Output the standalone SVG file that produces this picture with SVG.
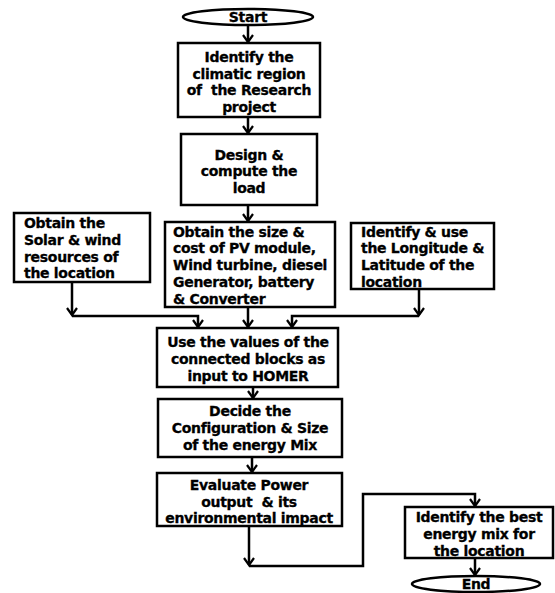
<svg xmlns="http://www.w3.org/2000/svg" width="555" height="593" viewBox="0 0 555 593">
<style>
.box{fill:#fff;stroke:#000;stroke-width:2.5}
.t{font-family:"DejaVu Sans","Verdana",sans-serif;font-weight:bold;font-size:14px;letter-spacing:-0.3px;fill:#000;stroke:#000;stroke-width:0.3;white-space:pre}
.c{text-anchor:middle}
.ln{fill:none;stroke:#000;stroke-width:2.5}
</style>
<defs>
<marker id="ah" viewBox="0 0 10 12" refX="8" refY="6" markerWidth="10" markerHeight="12" markerUnits="userSpaceOnUse" orient="auto">
<path d="M1,1 L8,6 L1,11" fill="none" stroke="#000" stroke-width="2.2"/>
</marker>
</defs>
<rect width="555" height="593" fill="#fff"/>
<g id="connectors">
<path class="ln" d="M248,25 V42" marker-end="url(#ah)"/>
<path class="ln" d="M248,117 V133" marker-end="url(#ah)"/>
<path class="ln" d="M248,205 V221" marker-end="url(#ah)"/>
<path class="ln" d="M72,282 V315" marker-end="url(#ah)"/>
<path class="ln" d="M72,316 H198 V327" marker-end="url(#ah)"/>
<path class="ln" d="M248,307 V327" marker-end="url(#ah)"/>
<path class="ln" d="M419,289 V315" marker-end="url(#ah)"/>
<path class="ln" d="M419,316 H292 V327" marker-end="url(#ah)"/>
<path class="ln" d="M253,387 V398" marker-end="url(#ah)"/>
<path class="ln" d="M252,457 V472" marker-end="url(#ah)"/>
<path class="ln" d="M249,526 V565" marker-end="url(#ah)"/>
<path class="ln" d="M249,566 H363 V494 H475 V506" marker-end="url(#ah)"/>
<path class="ln" d="M475,558 V575" marker-end="url(#ah)"/>
</g>
<g id="start">
<ellipse class="box" cx="248" cy="17" rx="65" ry="8"/>
<text class="t c" x="248" y="22">Start</text>
</g>
<g id="climatic">
<rect class="box" x="178" y="43" width="142" height="74"/>
<text class="t c" x="249" y="62">Identify the</text>
<text class="t c" x="249" y="79">climatic region</text>
<text class="t c" x="249" y="95">of  the Research</text>
<text class="t c" x="249" y="112">project</text>
</g>
<g id="load">
<rect class="box" x="181" y="134" width="136" height="71"/>
<text class="t c" x="249" y="160">Design &amp;</text>
<text class="t c" x="249" y="176">compute the</text>
<text class="t c" x="249" y="193">load</text>
</g>
<g id="resources">
<rect class="box" x="14" y="213" width="136" height="69"/>
<text class="t" x="24" y="228">Obtain the</text>
<text class="t" x="24" y="245">Solar &amp; wind</text>
<text class="t" x="24" y="262">resources of</text>
<text class="t" x="24" y="278">the location</text>
</g>
<g id="sizecost">
<rect class="box" x="165" y="222" width="170" height="85"/>
<text class="t" x="173" y="237">Obtain the size &amp;</text>
<text class="t" x="173" y="253">cost of PV module,</text>
<text class="t" x="173" y="270">Wind turbine, diesel</text>
<text class="t" x="173" y="287">Generator, battery</text>
<text class="t" x="173" y="304">&amp; Converter</text>
</g>
<g id="longlat">
<rect class="box" x="351" y="223" width="143" height="66"/>
<text class="t" x="361" y="237">Identify &amp; use</text>
<text class="t" x="361" y="253">the Longitude &amp;</text>
<text class="t" x="361" y="270">Latitude of the</text>
<text class="t" x="361" y="287">location</text>
</g>
<g id="homer">
<rect class="box" x="157" y="328" width="181" height="59"/>
<text class="t c" x="248" y="347">Use the values of the</text>
<text class="t c" x="248" y="364">connected blocks as</text>
<text class="t c" x="248" y="381">input to HOMER</text>
</g>
<g id="config">
<rect class="box" x="158" y="399" width="184" height="58"/>
<text class="t c" x="250" y="416">Decide the</text>
<text class="t c" x="250" y="433">Configuration &amp; Size</text>
<text class="t c" x="250" y="450">of the energy Mix</text>
</g>
<g id="evaluate">
<rect class="box" x="157" y="473" width="185" height="53"/>
<text class="t c" x="249" y="490">Evaluate Power</text>
<text class="t c" x="249" y="507">output  &amp; its</text>
<text class="t c" x="249" y="523">environmental impact</text>
</g>
<g id="best">
<rect class="box" x="405" y="507" width="148" height="51"/>
<text class="t c" x="479" y="522">Identify the best</text>
<text class="t c" x="479" y="539">energy mix for</text>
<text class="t c" x="479" y="556">the location</text>
</g>
<g id="end">
<ellipse class="box" cx="476" cy="584" rx="64" ry="8"/>
<text class="t c" x="476" y="589">End</text>
</g>
</svg>
